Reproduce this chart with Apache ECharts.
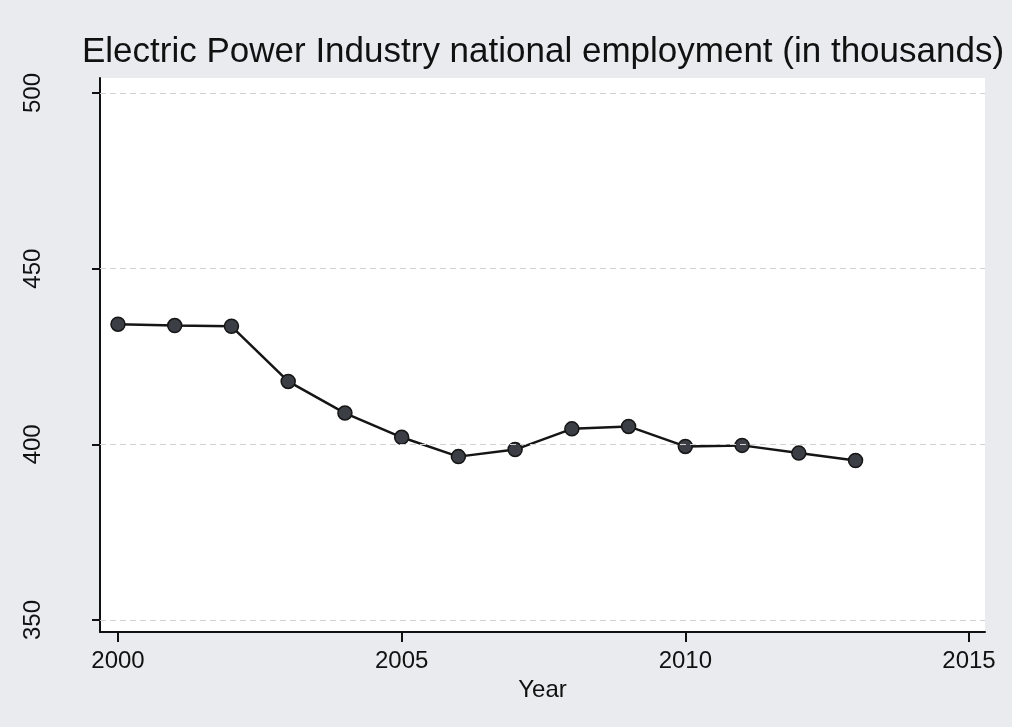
<!DOCTYPE html>
<html>
<head>
<meta charset="utf-8">
<script src="https://cdn.jsdelivr.net/npm/echarts@6/dist/echarts.min.js"></script>
<style>
  html, body { margin: 0; padding: 0; background: #e9ebef; }
  #chart { width: 1012px; height: 727px; }
</style>
</head>
<body>
<div id="chart"></div>
<script>
// Employment in the electric power industry, thousands of jobs per year
const years = [2000, 2001, 2002, 2003, 2004, 2005, 2006, 2007, 2008, 2009, 2010, 2011, 2012, 2013];
const employment = [434.2, 433.8, 433.6, 417.9, 408.9, 402.0, 396.5, 398.5, 404.4, 405.1, 399.4, 399.7, 397.5, 395.4];

// Tick values shown on each axis
const xTicks = [2000, 2005, 2010, 2015];
const yTicks = [350, 400, 450, 500];

// Axis extents leave a little padding around the outer ticks
const xRange = [1999.683, 2015.282];
const yRange = [346.58, 504.27];

const chart = echarts.init(document.getElementById('chart'), null, { renderer: 'canvas' });

const font = '"Liberation Sans", Arial, Helvetica, sans-serif';

chart.setOption({
  backgroundColor: '#e9ebef',
  animation: false,
  title: {
    text: 'Electric Power Industry national employment (in thousands)',
    left: 82,
    top: 35,
    padding: 0,
    textStyle: { fontFamily: font, fontSize: 35, fontWeight: 'normal', color: '#111' }
  },
  grid: {
    left: 100, top: 78, right: 27, bottom: 95,
    show: true, backgroundColor: '#ffffff', borderWidth: 0,
    containLabel: false, outerBoundsMode: 'none'
  },
  xAxis: {
    type: 'value',
    min: xRange[0], max: xRange[1],
    name: 'Year',
    nameLocation: 'middle',
    nameGap: 41,
    nameTextStyle: { fontFamily: font, fontSize: 24, color: '#111' },
    axisLine: { show: true, onZero: false, lineStyle: { color: '#111', width: 2 } },
    axisTick: { show: true, length: 10, customValues: xTicks, lineStyle: { color: '#111', width: 2 } },
    axisLabel: {
      customValues: xTicks, margin: 17,
      fontFamily: font, fontSize: 24, color: '#111',
      formatter: v => String(Math.round(v))
    },
    splitLine: { show: false }
  },
  yAxis: {
    type: 'value',
    min: yRange[0], max: yRange[1],
    axisLine: { show: true, onZero: false, lineStyle: { color: '#111', width: 2 } },
    axisTick: { show: true, length: 8, customValues: yTicks, lineStyle: { color: '#111', width: 2 } },
    axisLabel: {
      customValues: yTicks, rotate: 90, margin: 55,
      fontFamily: font, fontSize: 24, color: '#111',
      formatter: v => String(Math.round(v))
    },
    splitLine: { show: false }
  },
  series: [
    {
      // horizontal reference lines at each labelled y value
      type: 'line',
      data: [],
      z: 1,
      silent: true,
      markLine: {
        silent: true,
        symbol: 'none',
        label: { show: false },
        lineStyle: { color: '#d0d2d6', width: 1, type: [6, 4] },
        data: yTicks.map(v => ({ yAxis: v }))
      }
    },
    {
      type: 'line',
      z: 3,
      data: years.map((y, i) => [y, employment[i]]),
      symbol: 'circle',
      symbolSize: 14,
      lineStyle: { color: '#151515', width: 2.5 },
      itemStyle: { color: '#3b3e44', borderColor: '#151515', borderWidth: 1.5 }
    }
  ]
});
</script>
</body>
</html>
